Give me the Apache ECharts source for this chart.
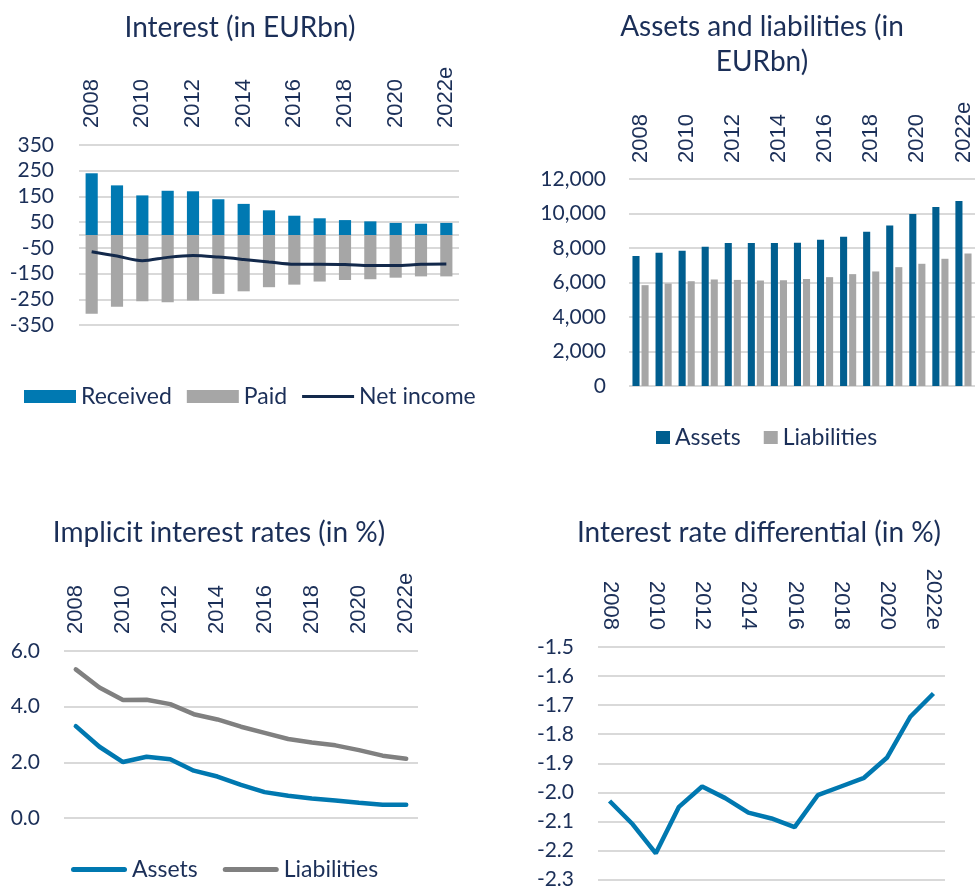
<!DOCTYPE html>
<html>
<head>
<meta charset="utf-8">
<script src="https://cdn.jsdelivr.net/npm/echarts@6/dist/echarts.min.js"></script>
<style>
  html, body { margin: 0; padding: 0; background: #fff; }
  .wrap { position: relative; width: 975px; height: 890px; }
  .panel { position: absolute; }
</style>
</head>
<body>
<div class="wrap">
  <div id="c1" class="panel" style="left:0;top:0;width:487px;height:460px"></div>
  <div id="c2" class="panel" style="left:487px;top:0;width:488px;height:460px"></div>
  <div id="c3" class="panel" style="left:0;top:445px;width:487px;height:445px"></div>
  <div id="c4" class="panel" style="left:487px;top:445px;width:488px;height:445px"></div>
</div>
<script>
// categories
const years = ['2008', '2009', '2010', '2011', '2012', '2013', '2014', '2015',
  '2016', '2017', '2018', '2019', '2020', '2021', '2022e']

// interest (EURbn)
const received = [240, 193, 154, 172, 170, 139, 121, 96, 75, 65, 58, 53, 47, 44, 47]
const paid = [-306, -279, -258, -262, -255, -229, -219, -203, -193, -181, -175, -172, -166, -161, -161]
const netIncome = [-65, -82, -100, -87, -80, -86, -95, -105, -114, -114, -115, -119, -119, -114, -113]

// assets and liabilities (EURbn)
const assets = [7530, 7720, 7840, 8070, 8285, 8285, 8285, 8300, 8480, 8650, 8940, 9310, 9970, 10375, 10720]
const liabilities = [5845, 5940, 6075, 6175, 6150, 6115, 6135, 6210, 6310, 6485, 6640, 6890, 7085, 7375, 7680]

// implicit interest rates (%)
const rateAssets = [3.30, 2.56, 2.01, 2.20, 2.11, 1.70, 1.49, 1.19, 0.93, 0.80, 0.70, 0.63, 0.55, 0.48, 0.48]
const rateLiabilities = [5.34, 4.69, 4.24, 4.25, 4.09, 3.73, 3.54, 3.28, 3.06, 2.84, 2.71, 2.61, 2.44, 2.24, 2.13]

// interest rate differential (%)
const differential = [-2.03, -2.11, -2.21, -2.05, -1.98, -2.02, -2.07, -2.09, -2.12, -2.01, -1.98, -1.95, -1.88, -1.74, -1.66]

const navy = '#1b2f58'
const gridColor = '#d9d9d9'
const T = 'rgba(0,0,0,0)'
const mainFont = 'Lato'

// legend icons for the line series: plain line, no marker
const thinLine = 'path://M0,0 L52,0 L52,3 L0,3 Z'
const thickLine = 'path://M2.5,0 L53.5,0 A2.5,2.5 0 0 1 53.5,5 L2.5,5 A2.5,2.5 0 0 1 2.5,0 Z'

const title = (text, x, y) => ({
  type: 'text', x: x, y: y,
  style: {
    text: text, fill: navy, font: '28px Lato',
    textAlign: 'center', textVerticalAlign: 'middle'
  }
})

const xCat = (margin) => ({
  type: 'category',
  position: 'top',
  data: years,
  axisLine: {show: false},
  axisTick: {show: false},
  axisLabel: {
    interval: 1, rotate: 90, margin: margin,
    color: navy, fontFamily: 'Liberation Sans', fontSize: 22
  }
})

const yVal = (extra) => Object.assign({
  type: 'value',
  axisLine: {show: false},
  axisTick: {show: false},
  axisLabel: {color: navy, fontFamily: mainFont, fontSize: 21, margin: 24},
  splitLine: {lineStyle: {color: gridColor, width: 2}}
}, extra)

const legendText = {color: navy, fontFamily: mainFont, fontSize: 23}

// 1. Interest
const chart1 = echarts.init(document.getElementById('c1'))
chart1.setOption({
  animation: false,
  graphic: [title('Interest (in EURbn)', 240, 28)],
  grid: {left: 79, top: 145, width: 380, height: 180},
  xAxis: xCat(17),
  yAxis: yVal({
    min: -350, max: 350, interval: 50,
    axisLabel: {
      color: navy, fontFamily: mainFont, fontSize: 21, margin: 25,
      formatter: v => (Math.abs(v) % 100 === 50 ? String(v) : '')
    },
    splitLine: {
      lineStyle: {
        width: 2,
        color: [gridColor, T, gridColor, T, gridColor, T, gridColor, gridColor,
          gridColor, T, gridColor, T, gridColor, T, gridColor]
      }
    }
  }),
  legend: {
    left: 24, top: 385, padding: 0, width: 470,
    itemWidth: 52, itemHeight: 13, itemGap: 15,
    textStyle: legendText,
    data: [{name: 'Received', icon: 'rect'}, {name: 'Paid', icon: 'rect'},
      {name: 'Net income', icon: thinLine}]
  },
  series: [
    {name: 'Received', type: 'bar', data: received, barWidth: '48%', barGap: '-100%',
      itemStyle: {color: '#0079b2'}},
    {name: 'Paid', type: 'bar', data: paid, barWidth: '48%',
      itemStyle: {color: '#a6a6a6'}},
    {name: 'Net income', type: 'line', data: netIncome, smooth: 0.3, symbol: 'none', z: 5,
      lineStyle: {color: '#13294b', width: 3}, itemStyle: {color: '#13294b'}}
  ]
})

// 2. Assets and liabilities
const chart2 = echarts.init(document.getElementById('c2'))
chart2.setOption({
  animation: false,
  graphic: [title('Assets and liabilities (in', 275, 27), title('EURbn)', 275, 62)],
  grid: {left: 142, top: 179, width: 346, height: 207},
  xAxis: xCat(16),
  yAxis: yVal({
    min: 0, max: 12000, interval: 2000,
    axisLabel: {
      color: navy, fontFamily: mainFont, fontSize: 21, margin: 23,
      formatter: v => v.toLocaleString('en-US')
    }
  }),
  legend: {
    left: 169, top: 426, padding: 0, itemWidth: 14, itemHeight: 13, itemGap: 23, icon: 'rect',
    textStyle: legendText
  },
  series: [
    {name: 'Assets', type: 'bar', data: assets, barCategoryGap: '30%', barGap: '28%',
      itemStyle: {color: '#005e8f'}},
    {name: 'Liabilities', type: 'bar', data: liabilities,
      itemStyle: {color: '#a6a6a6'}}
  ]
})

// 3. Implicit interest rates
const chart3 = echarts.init(document.getElementById('c3'))
chart3.setOption({
  animation: false,
  graphic: [title('Implicit interest rates (in %)', 219, 88)],
  grid: {left: 64, top: 206, width: 354, height: 167},
  xAxis: xCat(17),
  yAxis: yVal({
    min: 0, max: 6, interval: 2,
    axisLabel: {
      color: navy, fontFamily: mainFont, fontSize: 21, margin: 24,
      formatter: v => v.toFixed(1)
    }
  }),
  legend: {
    left: 71, top: 413, padding: 0, itemWidth: 56, itemHeight: 14, itemGap: 25,
    textStyle: legendText,
    data: [{name: 'Assets', icon: thickLine}, {name: 'Liabilities', icon: thickLine}]
  },
  series: [
    {name: 'Assets', type: 'line', data: rateAssets, symbol: 'none',
      lineStyle: {color: '#0078b0', width: 4.5, cap: 'round'}, itemStyle: {color: '#0078b0'}},
    {name: 'Liabilities', type: 'line', data: rateLiabilities, symbol: 'none',
      lineStyle: {color: '#808080', width: 4.5, cap: 'round'}, itemStyle: {color: '#808080'}}
  ]
})

// 4. Interest rate differential
const chart4 = echarts.init(document.getElementById('c4'))
chart4.setOption({
  animation: false,
  graphic: [title('Interest rate differential (in %)', 272, 88)],
  grid: {left: 111, top: 202, width: 347, height: 236},
  xAxis: xCat(17),
  yAxis: yVal({
    min: -2.3, max: -1.5, interval: 0.1,
    axisLabel: {
      color: navy, fontFamily: mainFont, fontSize: 21, margin: 24,
      formatter: v => v.toFixed(1)
    }
  }),
  series: [
    {name: 'Differential', type: 'line', data: differential, symbol: 'none',
      lineStyle: {color: '#0078b0', width: 4.5}, itemStyle: {color: '#0078b0'}}
  ]
})
</script>
</body>
</html>
